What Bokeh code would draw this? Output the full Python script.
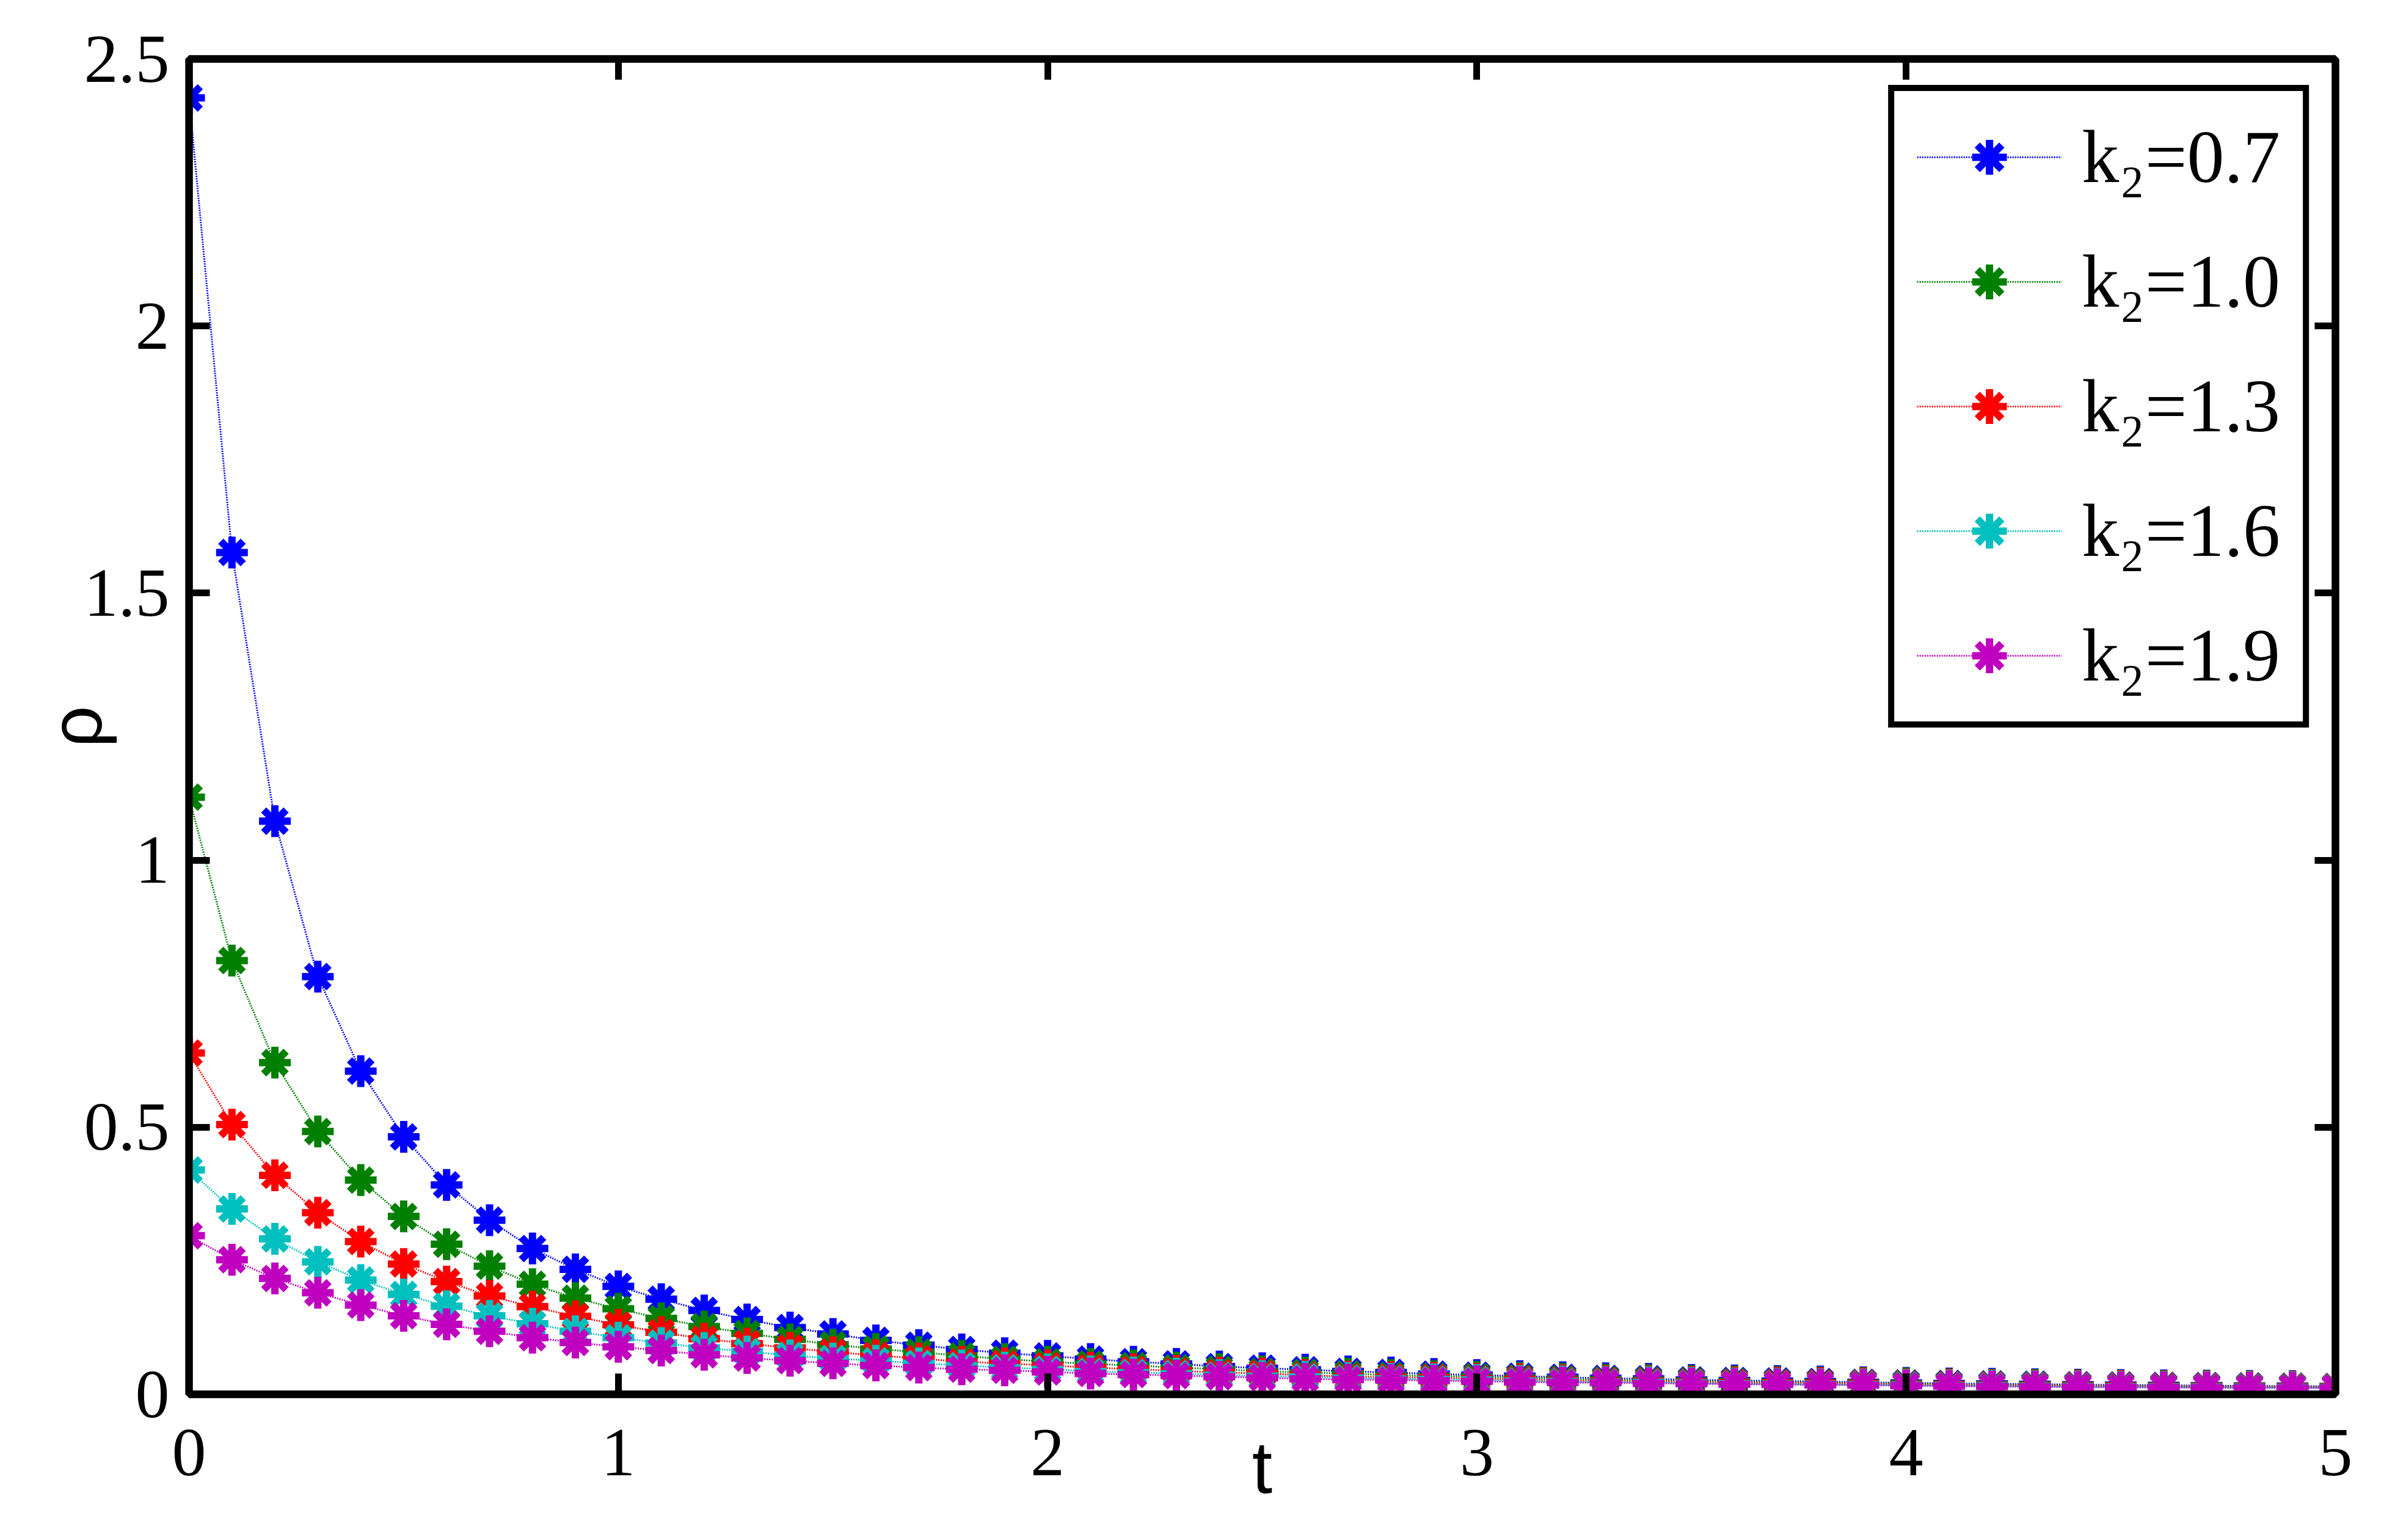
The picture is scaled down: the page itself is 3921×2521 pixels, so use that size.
from bokeh.plotting import figure
from bokeh.models import Range1d, LinearAxis, FixedTicker, Legend, LegendItem
from bokeh.embed import file_html
from bokeh.resources import INLINE

# ---------------- data ----------------
t = [0.0, 0.1, 0.2, 0.3, 0.4, 0.5, 0.6, 0.7, 0.8, 0.9, 1.0, 1.1, 1.2, 1.3, 1.4, 1.5, 1.6,
     1.7, 1.8, 1.9, 2.0, 2.1, 2.2, 2.3, 2.4, 2.5, 2.6, 2.7, 2.8, 2.9, 3.0, 3.1, 3.2, 3.3,
     3.4, 3.5, 3.6, 3.7, 3.8, 3.9, 4.0, 4.1, 4.2, 4.3, 4.4, 4.5, 4.6, 4.7, 4.8, 4.9, 5.0]

rho_k07 = [2.427, 1.576, 1.073, 0.782, 0.605, 0.482, 0.392, 0.326, 0.273, 0.234,
           0.202, 0.178, 0.157, 0.140, 0.125, 0.113, 0.101, 0.092, 0.084, 0.077,
           0.072, 0.066, 0.061, 0.057, 0.052, 0.049, 0.046, 0.043, 0.041, 0.038,
           0.036, 0.034, 0.032, 0.030, 0.029, 0.027, 0.026, 0.025, 0.024, 0.0225,
           0.0214, 0.0204, 0.0196, 0.0190, 0.0180, 0.0175, 0.0168, 0.0163, 0.0158, 0.0153,
           0.0148]
rho_k10 = [1.118, 0.812, 0.621, 0.492, 0.401, 0.333, 0.281, 0.240, 0.206, 0.180,
           0.160, 0.142, 0.127, 0.114, 0.103, 0.093, 0.085, 0.079, 0.072, 0.066,
           0.061, 0.057, 0.054, 0.050, 0.047, 0.043, 0.041, 0.0385, 0.036, 0.034,
           0.033, 0.031, 0.029, 0.0275, 0.0267, 0.025, 0.024, 0.0229, 0.022, 0.0214,
           0.0202, 0.0190, 0.0183, 0.0178, 0.0168, 0.0164, 0.0157, 0.0154, 0.0150, 0.0146,
           0.0142]
rho_k13 = [0.639, 0.505, 0.410, 0.340, 0.286, 0.244, 0.211, 0.184, 0.164, 0.146,
           0.130, 0.116, 0.104, 0.095, 0.087, 0.079, 0.073, 0.067, 0.061, 0.058,
           0.054, 0.050, 0.047, 0.044, 0.041, 0.039, 0.036, 0.033, 0.032, 0.031,
           0.029, 0.028, 0.026, 0.025, 0.0244, 0.023, 0.022, 0.0217, 0.021, 0.0202,
           0.0183, 0.0179, 0.0172, 0.0164, 0.0160, 0.0156, 0.0149, 0.0146, 0.0142, 0.0139,
           0.0136]
rho_k16 = [0.420, 0.347, 0.291, 0.248, 0.214, 0.187, 0.165, 0.147, 0.132, 0.118,
           0.106, 0.096, 0.087, 0.080, 0.073, 0.067, 0.063, 0.058, 0.054, 0.050,
           0.047, 0.043, 0.041, 0.039, 0.036, 0.034, 0.033, 0.0305, 0.029, 0.028,
           0.027, 0.025, 0.024, 0.023, 0.0225, 0.0213, 0.020, 0.0194, 0.0187, 0.0183,
           0.0172, 0.0164, 0.0160, 0.0152, 0.0145, 0.0141, 0.0137, 0.0134, 0.0131, 0.0128,
           0.0125]
rho_k19 = [0.297, 0.252, 0.217, 0.190, 0.167, 0.147, 0.131, 0.118, 0.106, 0.097,
           0.089, 0.082, 0.074, 0.068, 0.063, 0.058, 0.054, 0.050, 0.047, 0.045,
           0.042, 0.039, 0.037, 0.035, 0.033, 0.031, 0.029, 0.0275, 0.0267, 0.0255,
           0.0244, 0.023, 0.022, 0.0217, 0.0206, 0.0198, 0.019, 0.0183, 0.0175, 0.0172,
           0.0160, 0.0152, 0.0145, 0.0141, 0.0133, 0.0130, 0.0126, 0.0123, 0.0120, 0.0118,
           0.0116]

series = [rho_k07, rho_k10, rho_k13, rho_k16, rho_k19]
series_labels = ["k\u2082=0.7", "k\u2082=1.0", "k\u2082=1.3", "k\u2082=1.6", "k\u2082=1.9"]
colors = ["#0000FF", "#008000", "#FF0000", "#00BFBF", "#BF00BF"]

x_ticks = [0, 1, 2, 3, 4, 5]
x_tick_labels = ["0", "1", "2", "3", "4", "5"]
y_ticks = [0, 0.5, 1, 1.5, 2, 2.5]
y_tick_labels = ["0", "0.5", "1", "1.5", "2", "2.5"]
x_label = "t"
y_label = "\u03c1"

# ---------------- figure ----------------
p = figure(frame_width=3514, frame_height=2186,
           x_range=Range1d(0, 5), y_range=Range1d(0, 2.5),
           output_backend="svg", toolbar_location=None,
           min_border_left=309, min_border_top=96, min_border_right=82, min_border_bottom=215,
           background_fill_color="white", border_fill_color="white")
p.grid.visible = False
p.outline_line_color = "black"
p.outline_line_width = 12

TICK_FONT = "Liberation Serif"
LABEL_FONT = "Liberation Sans"


def style_axis(ax, ticks, labels, show):
    ax.ticker = FixedTicker(ticks=ticks)
    ax.axis_line_color = "black"
    ax.axis_line_width = 12
    ax.major_tick_in = 34
    ax.major_tick_out = 0
    ax.major_tick_line_width = 11
    ax.major_tick_line_color = "black"
    ax.minor_tick_in = 0
    ax.minor_tick_out = 0
    ax.major_label_overrides = {tk: lb for tk, lb in zip(ticks, labels)}
    if show:
        ax.major_label_text_font = TICK_FONT
        ax.major_label_text_font_size = "112px"
        ax.major_label_text_color = "black"
    else:
        ax.major_label_text_font_size = "1px"
        ax.major_label_text_color = None
        ax.major_label_standoff = 0


xa = p.xaxis[0]
style_axis(xa, x_ticks, x_tick_labels, True)
xa.major_label_standoff = 58
xa.axis_label = x_label
xa.axis_label_text_font = LABEL_FONT
xa.axis_label_text_font_style = "normal"
xa.axis_label_text_font_size = "120px"
xa.axis_label_text_color = "black"
xa.axis_label_standoff = -83

ya = p.yaxis[0]
style_axis(ya, y_ticks, y_tick_labels, True)
ya.major_label_standoff = 32
ya.axis_label = y_label
ya.axis_label_text_font = LABEL_FONT
ya.axis_label_text_font_style = "normal"
ya.axis_label_text_font_size = "120px"
ya.axis_label_text_color = "black"
ya.axis_label_standoff = -56

top_ax = LinearAxis()
style_axis(top_ax, x_ticks, x_tick_labels, False)
p.add_layout(top_ax, "above")
right_ax = LinearAxis()
style_axis(right_ax, y_ticks, y_tick_labels, False)
p.add_layout(right_ax, "right")

items = []
for vals, lab, col in zip(series, series_labels, colors):
    r_line = p.line(t, vals, line_color=col, line_width=3, line_dash="2 2")
    r_mark = p.scatter(t, vals, marker="asterisk", size=52, line_color=col, line_width=12)
    items.append(LegendItem(label=lab, renderers=[r_line, r_mark]))

legend = Legend(items=items, location="top_right", margin=43,
                padding=37, spacing=62,
                glyph_width=237, glyph_height=142, label_height=142,
                label_standoff=33,
                label_text_font=TICK_FONT, label_text_font_size="122px",
                label_text_color="black",
                border_line_color="black", border_line_width=10, border_line_alpha=1.0,
                background_fill_color="white", background_fill_alpha=1.0)
p.add_layout(legend)

open("out.html", "w").write(file_html(p, INLINE))
